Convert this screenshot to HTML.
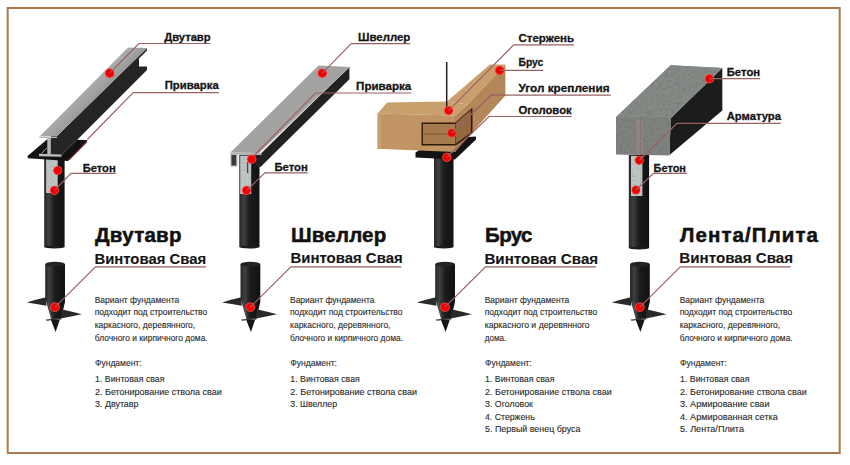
<!DOCTYPE html>
<html><head><meta charset="utf-8">
<style>
html,body{margin:0;padding:0;background:#fff;width:850px;height:465px;overflow:hidden}
svg{display:block}
text{font-family:"Liberation Sans",sans-serif}
.lb{font-weight:bold;font-size:11.3px;fill:#151515;stroke:#151515;stroke-width:0.3px}
.tt{font-weight:bold;font-size:20.5px;fill:#111;stroke:#111;stroke-width:0.5px}
.st{font-weight:bold;font-size:14px;fill:#151515;stroke:#151515;stroke-width:0.12px}
.p{font-size:8.3px;fill:#2c2c2c;stroke:#2c2c2c;stroke-width:0.12px}
.rl{stroke:#9a6262;stroke-width:1.2;fill:none}
</style></head><body>
<svg width="850" height="465" viewBox="0 0 850 465">
<defs>
 <linearGradient id="pg" x1="0" x2="1" y1="0" y2="0">
  <stop offset="0" stop-color="#262626"/>
  <stop offset="0.22" stop-color="#404040"/>
  <stop offset="0.5" stop-color="#1b1b1b"/>
  <stop offset="1" stop-color="#111"/>
 </linearGradient>
 <radialGradient id="dot" cx="0.5" cy="0.5" r="0.5">
  <stop offset="0.7" stop-color="#f20000"/>
  <stop offset="1" stop-color="#f55"/>
 </radialGradient>
 <linearGradient id="ibg" gradientUnits="userSpaceOnUse" x1="84" y1="91" x2="96" y2="103">
  <stop offset="0" stop-color="#acacac"/>
  <stop offset="1" stop-color="#959595"/>
 </linearGradient>
 <filter id="tex" x="0" y="0" width="100%" height="100%" color-interpolation-filters="sRGB">
  <feTurbulence type="fractalNoise" baseFrequency="0.35" numOctaves="3" seed="7" result="n"/>
  <feColorMatrix in="n" type="matrix" values="0 0 0 0 0.40  0 0 0 0 0.42  0 0 0 0 0.40  1.3 0 0 0 -0.6" result="c"/>
  <feComposite in="c" in2="SourceGraphic" operator="in" result="m"/>
  <feMerge><feMergeNode in="SourceGraphic"/><feMergeNode in="m"/></feMerge>
 </filter>
 <filter id="tex2" x="0" y="0" width="100%" height="100%" color-interpolation-filters="sRGB">
  <feTurbulence type="fractalNoise" baseFrequency="0.5" numOctaves="2" seed="11" result="n"/>
  <feColorMatrix in="n" type="matrix" values="0 0 0 0 0.55  0 0 0 0 0.57  0 0 0 0 0.57  1.2 0 0 0 -0.55" result="c"/>
  <feComposite in="c" in2="SourceGraphic" operator="in" result="m"/>
  <feMerge><feMergeNode in="SourceGraphic"/><feMergeNode in="m"/></feMerge>
 </filter>
 <g id="screw">
  <path d="M46,297.2 Q36,299.3 26.8,302.6 Q36,304.2 46.5,305.8 Z" fill="#2a2a2a"/>
  <path d="M45.2,264 L65,264 L65,302 L61,318.5 L51.5,320.5 L45.2,298 Z" fill="url(#pg)"/>
  <ellipse cx="55.1" cy="264.2" rx="9.9" ry="2.4" fill="#232323"/>
  <path d="M61.5,309.3 Q71.5,311.6 81.8,314.2 Q71.5,316.4 60.8,318.4 Z" fill="#2a2a2a"/>
  <path d="M45.5,319.8 Q53,318.2 61.5,317.8 L61,319.6 Q53,319.6 47,320.8 Z" fill="#1e1e1e"/>
  <path d="M47,320.2 Q53,319 60.5,318.8" stroke="#8a8a8a" stroke-width="0.5" fill="none"/>
  <path d="M48,301.5 L51.8,318.5" stroke="#6a6a6a" stroke-width="0.6"/>
  <path d="M50.8,319.6 L59.8,319.8 L55.6,332 Z" fill="#161616"/>
  <circle cx="55" cy="307.2" r="4.8" fill="url(#dot)"/>
  <path class="rl" d="M55,307.2 L95.5,266.8 L206,266.8"/>
 </g>
</defs>

<rect x="7.7" y="8" width="832" height="445" fill="none" stroke="#a87a4e" stroke-width="2"/>

<!-- common per panel -->
<use href="#screw"/>
<use href="#screw" x="195.3"/>
<use href="#screw" x="390"/>
<use href="#screw" x="584.8"/>

<!-- titles -->
<text class="tt" x="95" y="242" textLength="86.5" lengthAdjust="spacing">Двутавр</text>
<text class="tt" x="291" y="241.5" textLength="95.2" lengthAdjust="spacing">Швеллер</text>
<text class="tt" x="485" y="241.5" textLength="47.5" lengthAdjust="spacing">Брус</text>
<text class="tt" x="680" y="242" textLength="138" lengthAdjust="spacing">Лента/Плита</text>

<text class="st" x="94.4" y="263.5" textLength="111.8" lengthAdjust="spacingAndGlyphs">Винтовая Свая</text>
<text class="st" x="290.4" y="263.3" textLength="112.3" lengthAdjust="spacingAndGlyphs">Винтовая Свая</text>
<text class="st" x="484.4" y="263.8" textLength="113.8" lengthAdjust="spacingAndGlyphs">Винтовая Свая</text>
<text class="st" x="679.3" y="262.8" textLength="113.8" lengthAdjust="spacingAndGlyphs">Винтовая Свая</text>

<!-- paragraphs -->
<g id="par1">
<text class="p" x="94.7" y="302.8" textLength="84.5" lengthAdjust="spacingAndGlyphs">Вариант фундамента</text>
<text class="p" x="94.7" y="315.4" textLength="112.5" lengthAdjust="spacingAndGlyphs">подходит под строительство</text>
<text class="p" x="94.7" y="328.0" textLength="100.5" lengthAdjust="spacingAndGlyphs">каркасного, деревянного,</text>
<text class="p" x="94.7" y="340.7" textLength="113" lengthAdjust="spacingAndGlyphs">блочного и кирпичного дома.</text>
<text class="p" x="95" y="366.4" textLength="46.6" lengthAdjust="spacingAndGlyphs">Фундамент:</text>
<text class="p" x="95" y="382.4" textLength="69.5" lengthAdjust="spacingAndGlyphs">1. Винтовая свая</text>
<text class="p" x="95" y="394.9" textLength="126.7" lengthAdjust="spacingAndGlyphs">2. Бетонирование ствола сваи</text>
</g>
<text class="p" x="95" y="407.4" textLength="43.5" lengthAdjust="spacingAndGlyphs">3. Двутавр</text>

<g transform="translate(195.3,0)">
<text class="p" x="94.7" y="302.8" textLength="84.5" lengthAdjust="spacingAndGlyphs">Вариант фундамента</text>
<text class="p" x="94.7" y="315.4" textLength="112.5" lengthAdjust="spacingAndGlyphs">подходит под строительство</text>
<text class="p" x="94.7" y="328.0" textLength="100.5" lengthAdjust="spacingAndGlyphs">каркасного, деревянного,</text>
<text class="p" x="94.7" y="340.7" textLength="113" lengthAdjust="spacingAndGlyphs">блочного и кирпичного дома.</text>
<text class="p" x="95" y="366.4" textLength="46.6" lengthAdjust="spacingAndGlyphs">Фундамент:</text>
<text class="p" x="95" y="382.4" textLength="69.5" lengthAdjust="spacingAndGlyphs">1. Винтовая свая</text>
<text class="p" x="95" y="394.9" textLength="126.7" lengthAdjust="spacingAndGlyphs">2. Бетонирование ствола сваи</text>
<text class="p" x="95" y="407.4" textLength="46.7" lengthAdjust="spacingAndGlyphs">3. Швеллер</text>
</g>

<g transform="translate(390,0)">
<text class="p" x="94.7" y="302.8" textLength="84.5" lengthAdjust="spacingAndGlyphs">Вариант фундамента</text>
<text class="p" x="94.7" y="315.4" textLength="112.5" lengthAdjust="spacingAndGlyphs">подходит под строительство</text>
<text class="p" x="94.7" y="328.0" textLength="105" lengthAdjust="spacingAndGlyphs">каркасного и деревянного</text>
<text class="p" x="94.7" y="340.7" textLength="21.7" lengthAdjust="spacingAndGlyphs">дома.</text>
<text class="p" x="95" y="366.4" textLength="46.6" lengthAdjust="spacingAndGlyphs">Фундамент:</text>
<text class="p" x="95" y="382.4" textLength="69.5" lengthAdjust="spacingAndGlyphs">1. Винтовая свая</text>
<text class="p" x="95" y="394.9" textLength="126.7" lengthAdjust="spacingAndGlyphs">2. Бетонирование ствола сваи</text>
<text class="p" x="95" y="407.4" textLength="47.9" lengthAdjust="spacingAndGlyphs">3. Оголовок</text>
<text class="p" x="95" y="419.6" textLength="49.7" lengthAdjust="spacingAndGlyphs">4. Стержень</text>
<text class="p" x="95" y="431.9" textLength="95.4" lengthAdjust="spacingAndGlyphs">5. Первый венец бруса</text>
</g>

<g transform="translate(585,0)">
<text class="p" x="94.7" y="302.8" textLength="84.5" lengthAdjust="spacingAndGlyphs">Вариант фундамента</text>
<text class="p" x="94.7" y="315.4" textLength="112.5" lengthAdjust="spacingAndGlyphs">подходит под строительство</text>
<text class="p" x="94.7" y="328.0" textLength="100.5" lengthAdjust="spacingAndGlyphs">каркасного, деревянного,</text>
<text class="p" x="94.7" y="340.7" textLength="113" lengthAdjust="spacingAndGlyphs">блочного и кирпичного дома.</text>
<text class="p" x="95" y="366.4" textLength="46.6" lengthAdjust="spacingAndGlyphs">Фундамент:</text>
<text class="p" x="95" y="382.4" textLength="69.5" lengthAdjust="spacingAndGlyphs">1. Винтовая свая</text>
<text class="p" x="95" y="394.9" textLength="126.7" lengthAdjust="spacingAndGlyphs">2. Бетонирование ствола сваи</text>
<text class="p" x="95" y="407.4" textLength="89.5" lengthAdjust="spacingAndGlyphs">3. Армирование сваи</text>
<text class="p" x="95" y="419.6" textLength="97.8" lengthAdjust="spacingAndGlyphs">4. Армированная сетка</text>
<text class="p" x="95" y="431.9" textLength="64" lengthAdjust="spacingAndGlyphs">5. Лента/Плита</text>
</g>

<!-- PANELS -->
<!-- ===== Panel 1: I-beam ===== -->
<g id="p1">
 <rect x="44.2" y="157" width="20.4" height="90" fill="url(#pg)"/>
 <ellipse cx="54.4" cy="247" rx="10.2" ry="1.5" fill="#1c1c1c"/>
 <rect x="46.1" y="159" width="11.6" height="34" fill="#c0c6c6" filter="url(#tex2)"/>
 <path d="M27.5,156 L47,139.5 L87.5,140 L68,161 L28,158.3 Z" fill="#121212"/>
 <path d="M87,141.5 L68.5,160" stroke="#6a1a1a" stroke-width="1.2"/>
 <path d="M50.8,136 L57,136 L147,48 L147,50.5 L139,58.5 L139,66.5 L147,66.5 L147,70 L61.5,155.5 L50.8,155.5 Z" fill="#252525"/>
 <path d="M40,136 L57,136 L147,48 L128,47.5 Z" fill="url(#ibg)"/>
 <path d="M39,136.5 L57,136.5 L57,138 L39.5,138 Z" fill="#b5b5b5"/>
 <path d="M41.5,153.5 L47.3,147.5" stroke="#b0b0b0" stroke-width="0.9"/>
 <path d="M61.5,154.8 L76,140.5" stroke="#555" stroke-width="0.8"/>
 <rect x="47.3" y="137" width="3.5" height="17" fill="#b8b8b8"/>
 <path d="M39,153.8 L61.5,154.5 L61.5,156.8 L39,156.3 Z" fill="#bdbdbd"/>
 <circle cx="109.7" cy="73.2" r="4.9" fill="url(#dot)"/>
 <path class="rl" d="M109.7,73.2 L138.9,43.5 L210.6,43.5"/>
 <path class="rl" d="M87.3,139.5 L133.2,92.7 L218.7,92.7"/>
 <circle cx="57.7" cy="170.5" r="4.6" fill="url(#dot)"/>
 <circle cx="54.5" cy="190.3" r="4.6" fill="url(#dot)"/>
 <path class="rl" d="M54.5,190.3 L70.9,173.3 L115.8,173.3"/>
 <text class="lb" x="164.2" y="40.7" textLength="46.4" lengthAdjust="spacingAndGlyphs">Двутавр</text>
 <text class="lb" x="164.7" y="89.1" textLength="54" lengthAdjust="spacingAndGlyphs">Приварка</text>
 <text class="lb" x="82.7" y="171.9" textLength="33" lengthAdjust="spacingAndGlyphs">Бетон</text>
</g>

<!-- ===== Panel 2: Channel ===== -->
<g id="p2">
 <rect x="239.3" y="155" width="20.2" height="92" fill="url(#pg)"/>
 <ellipse cx="249.4" cy="247" rx="10.1" ry="1.5" fill="#1c1c1c"/>
 <rect x="240.2" y="156" width="11" height="38" fill="#c0c6c6" filter="url(#tex2)"/>
 <path d="M247.6,162 V173" stroke="#444" stroke-width="1.3"/>
 <path d="M255.5,153 L261.5,153 L349.4,66.5 L349.4,79.2 L260.5,167 L255.5,166 Z" fill="#222"/>
 <path d="M230.4,152.5 L259,153 L349.4,67 L318.5,65.5 Z" fill="#a4a2a0"/>
 <path d="M258,154 L349,67.5" stroke="#c8c8c8" stroke-width="0.8"/>
 <path d="M230.4,152.5 L261.5,153 L261.5,155.5 L230.4,155 Z" fill="#b5b5b5"/>
 <rect x="231" y="154.5" width="5.8" height="11.5" fill="#3a3a3a" stroke="#b8b8b8" stroke-width="1"/>
 <path d="M237.8,155.5 V166" stroke="#d0d0d0" stroke-width="0.8"/>
 <rect x="255.5" y="155" width="6" height="11" fill="#222"/>
 <circle cx="322.3" cy="73.2" r="4.8" fill="url(#dot)"/>
 <path class="rl" d="M322.3,73.2 L351.3,43.6 L410.3,43.6"/>
 <path class="rl" d="M251.6,158 L315.5,93 L411.3,93"/>
 <circle cx="251.6" cy="159.3" r="4.7" fill="url(#dot)"/>
 <circle cx="246.5" cy="190.4" r="4.6" fill="url(#dot)"/>
 <path class="rl" d="M246.5,190.4 L264.9,172.9 L307.8,172.9"/>
 <text class="lb" x="358" y="41.2" textLength="52.3" lengthAdjust="spacingAndGlyphs">Швеллер</text>
 <text class="lb" x="356.1" y="89.6" textLength="55.2" lengthAdjust="spacingAndGlyphs">Приварка</text>
 <text class="lb" x="274.5" y="171.2" textLength="33.3" lengthAdjust="spacingAndGlyphs">Бетон</text>
</g>

<!-- ===== Panel 3: Wood ===== -->
<g id="p3">
 <rect x="434" y="155" width="19.5" height="92" fill="url(#pg)"/>
 <ellipse cx="443.75" cy="247" rx="9.75" ry="1.5" fill="#1c1c1c"/>
 <path d="M415.5,152.5 L437,139 L476,136.5 L476,139.5 L455,159.5 L415.5,157.5 Z" fill="#131313"/>
 <!-- right beam side face -->
 <path d="M455,115.4 L467.5,104.5 L505.4,64.5 L505.4,95.4 L471.6,133 L455,152 Z" fill="#b3875a"/>
 <!-- right beam top face -->
 <path d="M447,101.6 L467.5,104.5 L505.4,64.5 L489.9,64.5 Z" fill="#c9a06d"/>
 <!-- left beam top -->
 <path d="M377.6,113.5 L387.2,102.5 L447,101.6 L467.5,104.5 L455,115.4 Z" fill="#c8a06c"/>
 <!-- left beam front -->
 <path d="M377.6,113.5 L455,115.4 L455,152 L377.6,148.8 Z" fill="#c09463"/>
 <path d="M377.6,113.5 L381,113.6 L381,149 L377.6,148.8 Z" fill="#c89d6c"/>
 <path d="M422.2,123.3 L455.5,123.3 L471.6,109.4 L471.6,133 L455.5,144.8 L422.2,144.8 Z" fill="#a57a4c" stroke="#2e1a0a" stroke-width="1.4"/>
 <path d="M455.5,123.3 L471.6,109.4 L471.6,133 L455.5,144.8 Z" fill="#94683f"/>
 <path d="M471.6,109.4 L471.6,133 L455.5,144.8" fill="none" stroke="#2e1a0a" stroke-width="1.4"/>
 <path d="M455.5,123.3 L455.5,144.8" stroke="#5a3a1e" stroke-width="0.8"/>
 <path d="M422.2,134 L455.5,134" stroke="#6a4a2a" stroke-width="0.8"/>
 <path d="M446.7,62 L446.7,107" stroke="#222" stroke-width="1.5"/>
 <circle cx="448.6" cy="110.6" r="4.6" fill="url(#dot)"/>
 <circle cx="451.8" cy="133" r="4.6" fill="url(#dot)"/>
 <circle cx="446.9" cy="157.3" r="4.6" fill="url(#dot)"/>
 <circle cx="499.6" cy="70.4" r="4.7" fill="url(#dot)"/>
 <path class="rl" d="M448.6,110.6 L513.8,44.8 L574.1,44.8"/>
 <path class="rl" d="M499.6,70.4 L543.3,70.4"/>
 <path class="rl" d="M451.8,133 L491,95.2 L610.8,95.2"/>
 <path class="rl" d="M446.9,157.3 L489,116.5 L571.7,116.5"/>
 <text class="lb" x="518.5" y="42.2" textLength="55.5" lengthAdjust="spacingAndGlyphs">Стержень</text>
 <text class="lb" x="518.5" y="65.9" textLength="24.8" lengthAdjust="spacingAndGlyphs">Брус</text>
 <text class="lb" x="518.5" y="92.3" textLength="91" lengthAdjust="spacingAndGlyphs">Угол крепления</text>
 <text class="lb" x="518.5" y="113.6" textLength="53.2" lengthAdjust="spacingAndGlyphs">Оголовок</text>
</g>

<!-- ===== Panel 4: Concrete ===== -->
<g id="p4">
 <rect x="628.8" y="155" width="20.3" height="93" fill="url(#pg)"/>
 <ellipse cx="638.95" cy="248" rx="10.15" ry="1.5" fill="#1c1c1c"/>
 <rect x="631" y="156" width="11.4" height="40" fill="#c0c6c6" filter="url(#tex2)"/>
 <path d="M670.6,118.2 L722.3,67.9 L722.3,110.5 L669.5,155 Z" fill="#1c1c1c"/>
 <path d="M616,117 L670.6,65.3 L722.3,67.9 L670.6,118.2 L669.5,155.5 L616,154.5 Z" fill="#7f837f"/>
 <path d="M616.5,117 L670.6,65.3 L722.3,67.9 L670.6,118.2 Z" fill="#868a86" filter="url(#tex)"/>
 <path d="M616.5,117.2 L670.6,118.4 L669.5,155 L616,154 Z" fill="#7f837f" filter="url(#tex)"/>
 <rect x="634.5" y="119.5" width="8" height="34" fill="#a08884" opacity="0.5"/>
 <path d="M635.5,119.5 V153.5 M640.5,119.5 V153.5" stroke="#8a6a66" stroke-width="1.1" opacity="0.6"/>
 <circle cx="709.4" cy="78.7" r="4.7" fill="url(#dot)"/>
 <circle cx="639.3" cy="160.3" r="4.6" fill="url(#dot)"/>
 <circle cx="635.9" cy="190" r="4.6" fill="url(#dot)"/>
 <path class="rl" d="M709.4,78.7 L760.2,78.7"/>
 <path class="rl" d="M639.3,160.3 L677,123.4 L780.9,123.4"/>
 <path class="rl" d="M635.9,190 L653.6,173.4 L686.8,173.4"/>
 <text class="lb" x="726.7" y="76.2" textLength="33.5" lengthAdjust="spacingAndGlyphs">Бетон</text>
 <text class="lb" x="726.7" y="119.6" textLength="54.2" lengthAdjust="spacingAndGlyphs">Арматура</text>
 <text class="lb" x="653.6" y="171.8" textLength="32.4" lengthAdjust="spacingAndGlyphs">Бетон</text>
</g>

</svg>
</body></html>
